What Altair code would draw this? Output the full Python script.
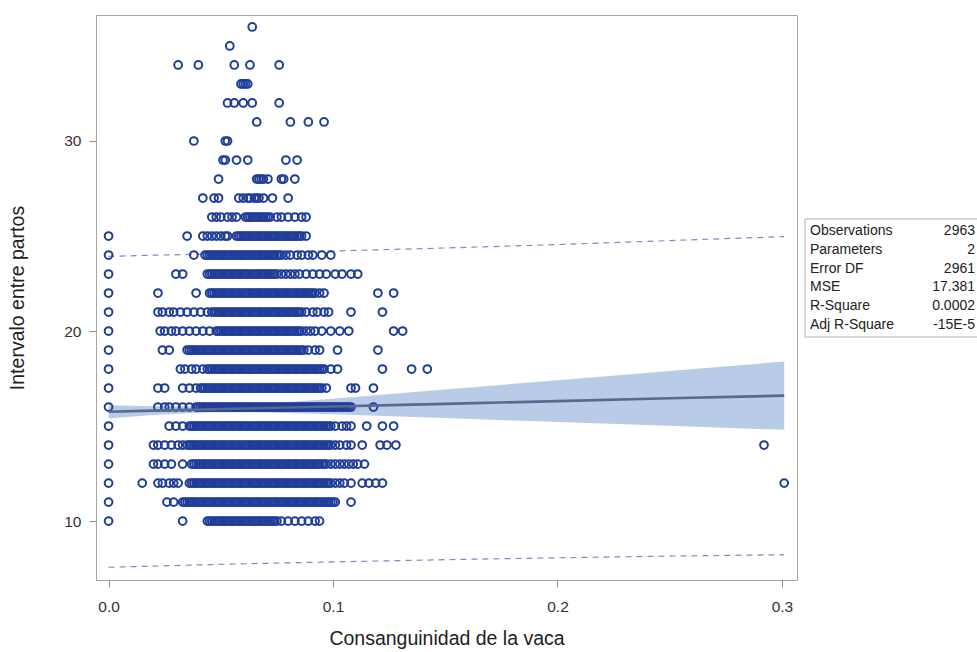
import altair as alt
import pandas as pd

# Inbreeding coefficient of each cow, in thousandths, grouped by calving interval
ici_10 = [0, 33,
          44, 45, 46, 47, 48, 49, 50, 51, 52, 53, 54, 55, 56, 57, 58, 59, 60, 61, 62, 63, 64, 65,
          66, 67, 68, 69, 70, 71, 72, 73, 74, 75,
          77, 80, 83, 86, 89, 92, 94]
ici_11 = [0, 26, 29,
          33, 34, 35, 36, 37, 38, 39, 40, 41, 42, 43, 44, 45, 46, 47, 48, 49, 50, 51, 52, 53, 54,
          55, 56, 57, 58, 59, 60, 61, 62, 63, 64, 65, 66, 67, 68, 69, 70, 71, 72, 73, 74, 75, 76,
          77, 78, 79, 80, 81, 82, 83, 84, 85, 86, 87, 88, 89, 90, 91, 92, 93, 94, 95, 96, 97, 98,
          99, 100, 101,
          108]
ici_12 = [0, 15, 22, 24, 27, 29, 31,
          36, 37, 38, 39, 40, 41, 42, 43, 44, 45, 46, 47, 48, 49, 50, 51, 52, 53, 54, 55, 56, 57,
          58, 59, 60, 61, 62, 63, 64, 65, 66, 67, 68, 69, 70, 71, 72, 73, 74, 75, 76, 77, 78, 79,
          80, 81, 82, 83, 84, 85, 86, 87, 88, 89, 90, 91, 92, 93, 94, 95, 96, 97, 98, 99,
          101, 103, 105, 108, 113, 116, 119, 122, 301]
ici_13 = [0, 20, 22, 25, 28, 33,
          37, 38, 39, 40, 41, 42, 43, 44, 45, 46, 47, 48, 49, 50, 51, 52, 53, 54, 55, 56, 57, 58,
          59, 60, 61, 62, 63, 64, 65, 66, 67, 68, 69, 70, 71, 72, 73, 74, 75, 76, 77, 78, 79, 80,
          81, 82, 83, 84, 85, 86, 87, 88, 89, 90, 91, 92, 93, 94, 95, 96, 97,
          99, 101, 103, 105, 107, 109, 111, 114]
ici_14 = [0, 20, 22, 25, 28, 31, 33,
          35, 36, 37, 38, 39, 40, 41, 42, 43, 44, 45, 46, 47, 48, 49, 50, 51, 52, 53, 54, 55, 56,
          57, 58, 59, 60, 61, 62, 63, 64, 65, 66, 67, 68, 69, 70, 71, 72, 73, 74, 75, 76, 77, 78,
          79, 80, 81, 82, 83, 84, 85, 86, 87, 88, 89, 90, 91, 92, 93, 94, 95, 96, 97, 98, 99,
          101, 103, 106, 108, 113, 121, 124, 128, 292]
ici_15 = [0, 27, 30, 33,
          36, 37, 38, 39, 40, 41, 42, 43, 44, 45, 46, 47, 48, 49, 50, 51, 52, 53, 54, 55, 56, 57,
          58, 59, 60, 61, 62, 63, 64, 65, 66, 67, 68, 69, 70, 71, 72, 73, 74, 75, 76, 77, 78, 79,
          80, 81, 82, 83, 84, 85, 86, 87, 88, 89, 90, 91, 92, 93, 94, 95, 96, 97, 98, 99,
          101, 104, 106, 108, 115, 122, 127]
ici_16 = [0, 22, 25, 27, 30, 33, 36,
          39, 40, 41, 42, 43, 44, 45, 46, 47, 48, 49, 50, 51, 52, 53, 54, 55, 56, 57, 58, 59, 60,
          61, 62, 63, 64, 65, 66, 67, 68, 69, 70, 71, 72, 73, 74, 75, 76, 77, 78, 79, 80, 81, 82,
          83, 84, 85, 86, 87, 88, 89, 90, 91, 92, 93, 94, 95, 96, 97, 98, 99, 100, 101, 102, 103,
          104, 105, 106, 107, 108,
          118]
ici_17 = [0, 22, 25, 33, 36, 39,
          41, 42, 43, 44, 45, 46, 47, 48, 49, 50, 51, 52, 53, 54, 55, 56, 57, 58, 59, 60, 61, 62,
          63, 64, 65, 66, 67, 68, 69, 70, 71, 72, 73, 74, 75, 76, 77, 78, 79, 80, 81, 82, 83, 84,
          85, 86, 87, 88, 89, 90, 91, 92, 93, 94, 95,
          97, 108, 110, 118]
ici_18 = [0, 32, 34, 37, 39, 42,
          44, 45, 46, 47, 48, 49, 50, 51, 52, 53, 54, 55, 56, 57, 58, 59, 60, 61, 62, 63, 64, 65,
          66, 67, 68, 69, 70, 71, 72, 73, 74, 75, 76, 77, 78, 79, 80, 81, 82, 83, 84, 85, 86, 87,
          88, 89, 90, 91, 92, 93, 94, 95, 96,
          99, 102, 122, 135, 142]
ici_19 = [0, 24, 27,
          35, 36, 37, 38, 39, 40, 41, 42, 43, 44, 45, 46, 47, 48, 49, 50, 51, 52, 53, 54, 55, 56,
          57, 58, 59, 60, 61, 62, 63, 64, 65, 66, 67, 68, 69, 70, 71, 72, 73, 74, 75, 76, 77, 78,
          79, 80, 81, 82, 83, 84, 85, 86, 87,
          89, 92, 94, 102, 120]
ici_20 = [0, 23, 25, 28, 30, 33, 36, 39, 42, 45,
          48, 49, 50, 51, 52, 53, 54, 55, 56, 57, 58, 59, 60, 61, 62, 63, 64, 65, 66, 67, 68, 69,
          70, 71, 72, 73, 74, 75, 76, 77, 78, 79, 80, 81, 82, 83, 84, 85, 86,
          88, 90, 92, 95, 99, 103, 107, 127, 131]
ici_21 = [0, 22, 24, 27, 29, 32, 35, 38, 41, 44,
          46, 47, 48, 49, 50, 51, 52, 53, 54, 55, 56, 57, 58, 59, 60, 61, 62, 63, 64, 65, 66, 67,
          68, 69, 70, 71, 72, 73, 74, 75, 76, 77, 78, 79, 80, 81, 82, 83, 84, 85, 86,
          88, 91, 93, 96, 98, 108, 122]
ici_22 = [0, 22, 39,
          45, 46, 47, 48, 49, 50, 51, 52, 53, 54, 55, 56, 57, 58, 59, 60, 61, 62, 63, 64, 65, 66,
          67, 68, 69, 70, 71, 72, 73, 74, 75, 76, 77, 78, 79, 80, 81, 82, 83, 84, 85, 86, 87, 88,
          89, 90, 91, 92,
          94, 96, 120, 127]
ici_23 = [0, 30, 33,
          44, 45, 46, 47, 48, 49, 50, 51, 52, 53, 54, 55, 56, 57, 58, 59, 60, 61, 62, 63, 64, 65,
          66, 67, 68, 69, 70, 71, 72, 73, 74, 75,
          77, 79, 81, 83, 85, 88, 91, 94, 97, 101, 104, 108, 111]
ici_24 = [0, 38,
          43, 44, 45, 46, 47, 48, 49, 50, 51, 52, 53, 54, 55, 56, 57, 58, 59, 60, 61, 62, 63, 64,
          65, 66, 67, 68, 69, 70, 71, 72, 73, 74, 75, 76, 77,
          79, 81, 84, 86, 89, 91, 95, 99]
ici_25 = [0, 35, 42, 44, 46, 48, 50, 52, 53,
          57, 58, 59, 60, 61, 62, 63, 64, 65, 66, 67, 68, 69, 70, 71, 72, 73, 74, 75, 76, 77, 78,
          79, 80, 81, 82, 83, 84, 85, 86,
          88]
ici_26 = [46, 48, 50, 53, 55, 57, 61, 62, 63, 64, 65, 66, 67, 68, 69, 70, 71, 72,
          75, 77, 80, 83, 86, 88]
ici_27 = [42, 47, 49, 58, 60, 62, 63, 65, 66, 67, 69, 73, 80]
ici_28 = [49, 66, 67, 68, 69, 71, 77, 78, 83]
ici_29 = [51, 52, 57, 62, 79, 84]
ici_30 = [38, 52, 53]
ici_31 = [66, 81, 89, 96]
ici_32 = [53, 56, 60, 64, 76]
ici_33 = [59, 60, 61, 62]
ici_34 = [31, 40, 56, 63, 76]
ici_35 = [54]
ici_36 = [64]

intervals = list(range(10, 37))
groups = [ici_10, ici_11, ici_12, ici_13, ici_14, ici_15, ici_16, ici_17, ici_18,
          ici_19, ici_20, ici_21, ici_22, ici_23, ici_24, ici_25, ici_26, ici_27,
          ici_28, ici_29, ici_30, ici_31, ici_32, ici_33, ici_34, ici_35, ici_36]

# Fitted line with 95% confidence band and 95% prediction limits
fit_x = [0.0, 0.02, 0.045, 0.07, 0.1, 0.15, 0.2, 0.25, 0.301]
fit_y = [15.75, 15.81, 15.88, 15.95, 16.03, 16.17, 16.31, 16.46, 16.60]
clm_lo = [15.40, 15.58, 15.73, 15.72, 15.62, 15.42, 15.21, 15.02, 14.80]
clm_hi = [16.10, 16.04, 16.03, 16.18, 16.44, 16.92, 17.41, 17.90, 18.40]
cli_lo = [7.57, 7.63, 7.71, 7.78, 7.85, 7.97, 8.07, 8.16, 8.23]
cli_hi = [23.93, 23.99, 24.05, 24.12, 24.21, 24.37, 24.55, 24.76, 24.97]

# Fit statistics
stat_names = ["Observations", "Parameters", "Error DF", "MSE", "R-Square", "Adj R-Square"]
stat_values = ["2963", "2", "2961", "17.381", "0.0002", "-15E-5"]

X_TITLE = "Consanguinidad de la vaca"
Y_TITLE = "Intervalo entre partos"
FONT = "Liberation Sans, Arial, sans-serif"

obs = pd.DataFrame(
    [(v / 1000.0, iv) for iv, xs in zip(intervals, groups) for v in xs],
    columns=["consanguinidad", "intervalo"],
)
fit = pd.DataFrame({
    "consanguinidad": fit_x, "intervalo": fit_y,
    "clm_lo": clm_lo, "clm_hi": clm_hi, "cli_lo": cli_lo, "cli_hi": cli_hi,
})

x_scale = alt.Scale(domain=[-0.0056, 0.3067], nice=False, zero=False)
y_scale = alt.Scale(domain=[6.9, 36.63], nice=False, zero=False)
x_axis = alt.Axis(values=[0.0, 0.1, 0.2, 0.3], format=".1f", titlePadding=15, labelPadding=12)
y_axis = alt.Axis(values=[10, 20, 30], titlePadding=36, labelPadding=8)


def xenc(field):
    return alt.X(field, type="quantitative", scale=x_scale, axis=x_axis, title=X_TITLE)


def yenc(field):
    return alt.Y(field, type="quantitative", scale=y_scale, axis=y_axis, title=Y_TITLE)


base_fit = alt.Chart(fit)

band = base_fit.mark_area(color="#b8cbe7", opacity=1).encode(
    x=xenc("consanguinidad"), y=yenc("clm_lo"), y2="clm_hi"
)
upper = base_fit.mark_line(color="#8489c4", strokeWidth=1.2, strokeDash=[6, 5]).encode(
    x=xenc("consanguinidad"), y=yenc("cli_hi")
)
lower = base_fit.mark_line(color="#8489c4", strokeWidth=1.2, strokeDash=[6, 5]).encode(
    x=xenc("consanguinidad"), y=yenc("cli_lo")
)
points = alt.Chart(obs).mark_point(
    shape="circle", filled=False, size=60, strokeWidth=2.0, color="#1f3d99", opacity=1
).encode(x=xenc("consanguinidad"), y=yenc("intervalo"))
line = base_fit.mark_line(color="#56698f", strokeWidth=2.6).encode(
    x=xenc("consanguinidad"), y=yenc("intervalo")
)

# Statistics inset to the right of the plot
stats = alt.Chart(pd.DataFrame({
    "names": ["\n".join(stat_names)],
    "values": ["\n".join(stat_values)],
}))
box = stats.mark_rect(fill="white", stroke="#b0b0b0", strokeWidth=1).encode(
    x=alt.value(709), x2=alt.value(900), y=alt.value(204), y2=alt.value(322)
)
names = stats.mark_text(
    align="left", baseline="middle", lineBreak="\n", lineHeight=18.8,
    font=FONT, fontSize=14, color="#222222"
).encode(x=alt.value(714), y=alt.value(216), text="names:N")
values = stats.mark_text(
    align="right", baseline="middle", lineBreak="\n", lineHeight=18.8,
    font=FONT, fontSize=14, color="#222222"
).encode(x=alt.value(879), y=alt.value(216), text="values:N")

chart = alt.layer(band, upper, lower, points, line, box, names, values).properties(
    width=701,
    height=565,
    autosize=alt.AutoSizeParams(type="none"),
    padding={"left": 96, "top": 15, "right": 180, "bottom": 72},
    background="white",
).configure_view(
    stroke="#a6a6a6", strokeWidth=1
).configure_axis(
    domain=False, grid=False, tickColor="#8c8c8c", tickSize=7, tickWidth=1,
    labelFont=FONT, labelFontSize=15.5, labelColor="#333333",
    titleFont=FONT, titleFontSize=19.5, titleColor="#222222", titleFontWeight="normal",
)

chart.save("out.html", embed_options={"renderer": "svg", "actions": False})
